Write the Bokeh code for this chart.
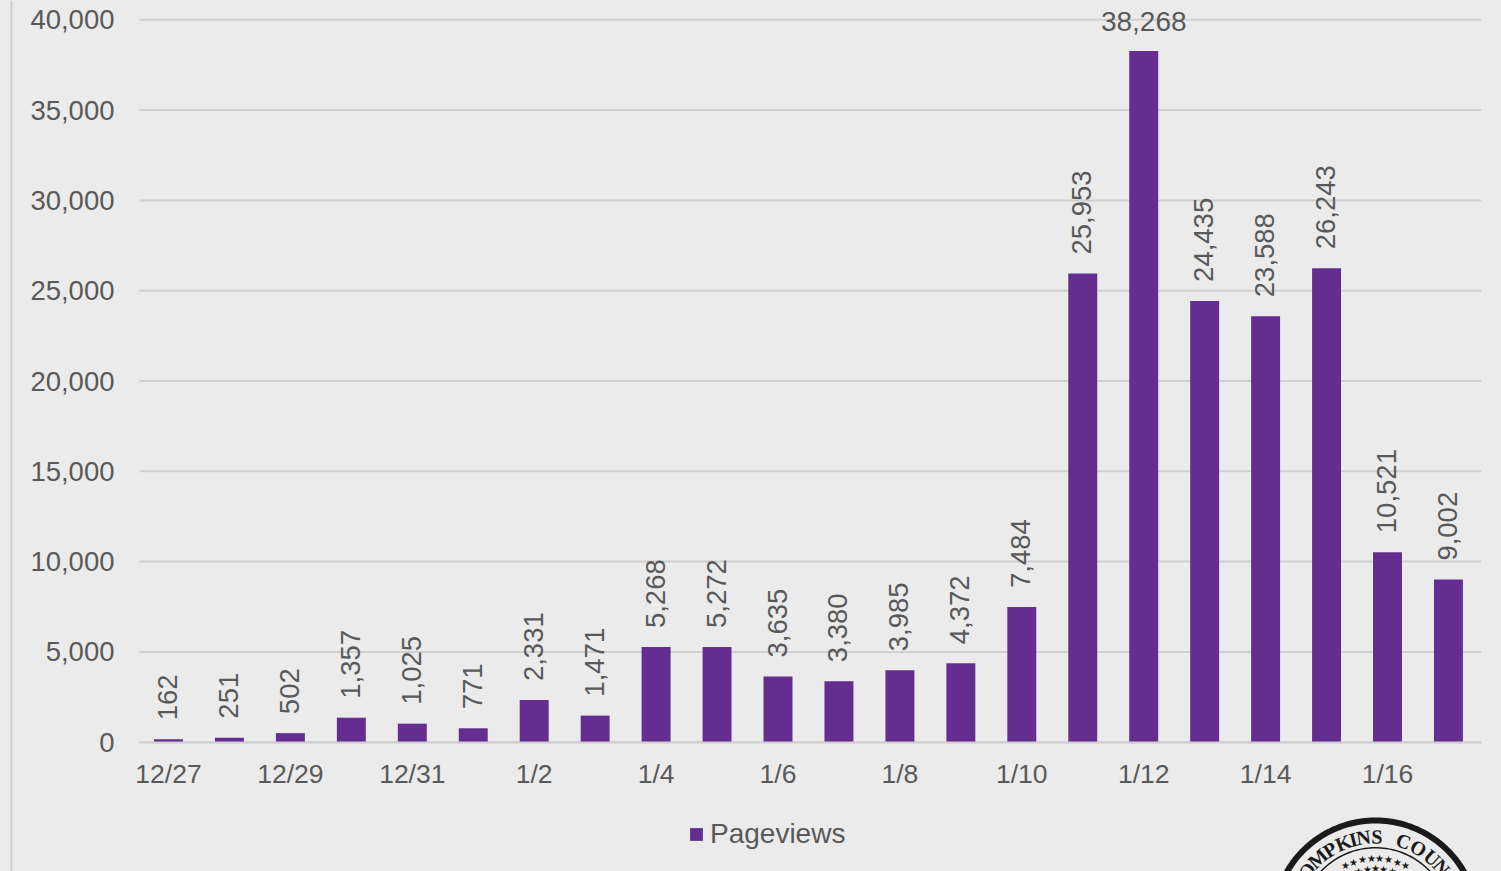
import math
from bokeh.plotting import figure
from bokeh.embed import file_html
from bokeh.resources import INLINE
from bokeh.models import Range1d, FixedTicker, Legend, LegendItem, ColumnDataSource, NumeralTickFormatter, Label, PolyAnnotation
from bokeh.core.properties import value

dates = ["12/27","12/28","12/29","12/30","12/31","1/1","1/2","1/3","1/4","1/5","1/6","1/7","1/8","1/9","1/10","1/11","1/12","1/13","1/14","1/15","1/16","1/17"]
pageviews = [162,251,502,1357,1025,771,2331,1471,5268,5272,3635,3380,3985,4372,7484,25953,38268,24435,23588,26243,10521,9002]
y_ticks = [0,5000,10000,15000,20000,25000,30000,35000,40000]
seal_letters = ["O","M","P","K","I","N","S","C","O","U","N"]
seal_angles = [-53,-42,-32,-22,-15,-8,1,19,30,41,50]

BG = "#ebebeb"; TXT = "#595959"; GRID = "#d0d0d0"; BAR = "#652d90"; FONT = "Liberation Sans"; INK = "#1a1a1a"
W, H = 1501, 871
PX_X = 60.95        # pixels per category
PX_Y = 722.4/40000  # pixels per pageview
X0_PX, Y0_PX = 168, 741.7
x_left, x_right = -0.476, 21.54   # plot area extent

p = figure(width=W, height=H, output_backend="svg", toolbar_location=None,
           x_range=Range1d(-X0_PX/PX_X, (W-X0_PX)/PX_X),
           y_range=Range1d(-(H-Y0_PX)/PX_Y, Y0_PX/PX_Y),
           min_border=0, background_fill_color=BG, border_fill_color=BG, outline_line_color=None)

xs = list(range(len(dates)))
labels = [f"{v:,}" for v in pageviews]
top_i = pageviews.index(max(pageviews))

p.xgrid.visible = False
p.ygrid.visible = False
p.segment(x0=[x_left]*len(y_ticks), x1=[x_right]*len(y_ticks), y0=y_ticks, y1=y_ticks, line_color=GRID, line_width=2)

src = ColumnDataSource(dict(x=xs, y=pageviews))
bars = p.vbar(x="x", top="y", width=0.475, source=src, color=BAR, line_color=None)

p.yaxis.ticker = FixedTicker(ticks=y_ticks)
p.yaxis.formatter = NumeralTickFormatter(format="0,0")
p.yaxis.axis_line_color = None
p.yaxis.fixed_location = x_left
p.xaxis.ticker = FixedTicker(ticks=xs[::2])
p.xaxis.major_label_overrides = {i: dates[i] for i in xs[::2]}
p.xaxis.axis_line_color = GRID
p.xaxis.axis_line_width = 2
p.xaxis.bounds = (x_left, x_right)
p.xaxis.fixed_location = 0
for ax in (p.xaxis[0], p.yaxis[0]):
    ax.major_tick_line_color = None
    ax.minor_tick_line_color = None
    ax.major_label_text_color = TXT
    ax.major_label_text_font = FONT
p.yaxis.major_label_text_font_size = "27.5px"
p.xaxis.major_label_text_font_size = "26.5px"
p.xaxis.major_label_standoff = 11
p.yaxis.major_label_standoff = 19

rot = [i for i in xs if i != top_i]
r_src = ColumnDataSource(dict(x=[xs[i] for i in rot], y=[pageviews[i] for i in rot], t=[labels[i] for i in rot]))
p.text(x="x", y="y", text="t", source=r_src, angle=math.pi/2, text_align="left", text_baseline="middle",
       x_offset=-1, y_offset=-19, text_color=TXT, text_font=value(FONT), text_font_size="27.5px")
p.text(x=[xs[top_i]], y=[pageviews[top_i]], text=[labels[top_i]], text_align="center", text_baseline="bottom",
       y_offset=-20, text_color=TXT, text_font=value(FONT), text_font_size="28px")

legend = Legend(items=[LegendItem(label="Pageviews", renderers=[bars])], location=(688, 21),
                orientation="horizontal", background_fill_alpha=0, border_line_alpha=0,
                label_text_color=TXT, label_text_font=FONT, label_text_font_size="28px",
                glyph_width=16, glyph_height=16, label_standoff=6, margin=0, padding=0)
p.add_layout(legend)

# screen units here run upward from the bottom of the canvas
def up(y):
    return H - y

def poly(cx, cy, r, **kw):
    n = 180
    xx = [cx + r*math.cos(2*math.pi*k/n) for k in range(n)]
    yy = [up(cy) + r*math.sin(2*math.pi*k/n) for k in range(n)]
    return PolyAnnotation(xs=xx, ys=yy, xs_units="screen", ys_units="screen", line_color=None, **kw)

p.add_layout(PolyAnnotation(xs=[10, 12, 12, 10], ys=[0, 0, H, H], xs_units="screen", ys_units="screen",
                            fill_color="#cfcfcf", fill_alpha=1, line_color=None))

CX, CY = 1375, 922
for r, col in [(105, INK), (99, BG), (75.5, INK), (74, BG)]:
    p.add_layout(poly(CX, CY, r, fill_color=col, fill_alpha=1))

def polar(a, r):
    ra = math.radians(a)
    return CX + r*math.sin(ra), up(CY - r*math.cos(ra))

for ch, a in zip(seal_letters, seal_angles):
    x, y = polar(a, 86)
    p.add_layout(Label(x=x, y=y, x_units="screen", y_units="screen", text=ch, angle=-a, angle_units="deg",
                       text_font="Liberation Serif", text_font_style="bold", text_font_size="20px",
                       text_color=INK, text_align="center", text_baseline="middle"))
for rr, cnt, st in [(64, 8, 8), (54, 5, 9)]:
    for k in range(cnt):
        x, y = polar((k-(cnt-1)/2)*st, rr)
        p.add_layout(Label(x=x, y=y, x_units="screen", y_units="screen", text="★",
                           text_font_size="10px", text_color=INK, text_align="center", text_baseline="middle"))

html = file_html(p, INLINE)
html = html.replace("<head>", "<head><style>html,body{background:#ebebeb;overflow:hidden;margin:0}</style>", 1)
open("out.html", "w").write(html)
